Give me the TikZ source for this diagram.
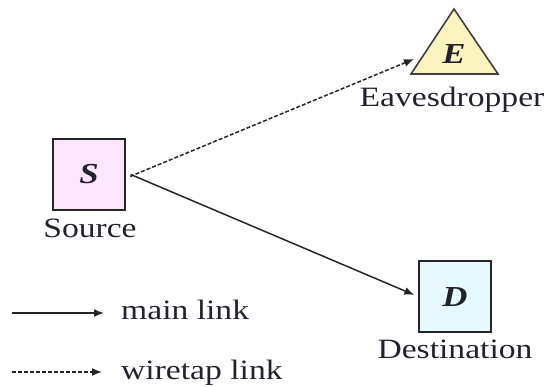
\documentclass[tikz,border=0pt]{standalone}
\usepackage{fontspec}
\setmainfont[FakeStretch=1.2]{Liberation Serif}
\usetikzlibrary{arrows.meta}
\definecolor{spink}{HTML}{FBE6FB}
\definecolor{eyel}{HTML}{FAF3BE}
\definecolor{dcyan}{HTML}{E6FAFD}
\definecolor{txt}{HTML}{22222E}
\begin{document}
\begin{tikzpicture}[x=1pt,y=-1pt,
  lbl/.style={font=\fontsize{28}{30}\selectfont, text=txt, inner sep=0pt},
  letter/.style={font=\fontsize{29}{30}\selectfont\bfseries\itshape, text=txt, inner sep=0pt},
  boxnode/.style={draw=black!85, line width=2pt, minimum width=72pt, minimum height=71pt, inner sep=0pt},
  link/.style={line width=1.5pt, draw=black!85, -{Latex[length=10pt,width=8pt]}},
  tap/.style={link, dash pattern=on 4pt off 2pt}
]
\useasboundingbox (0,0) rectangle (550,387);
% Source
\node[boxnode, fill=spink] (S) at (89,174.5) {};
\node[letter] (Sl) at (89,174) {S};
\node[lbl, anchor=base] (Stxt) at (90,238) {Source};
% Eavesdropper triangle
\coordinate (Etop) at (454,9);
\coordinate (Eleft) at (411,74);
\coordinate (Eright) at (498,74);
\draw[line width=1.6pt, draw=black!75, fill=eyel, line join=miter] (Etop) -- (Eleft) -- (Eright) -- cycle;
\node[letter] (E) at (454,54) {E};
\node[lbl, anchor=base] (Etxt) at (452,107) {Eavesdropper};
\coordinate (Etip) at (414,59);
% Destination
\node[boxnode, fill=dcyan] (D) at (455,296.5) {};
\node[letter] (Dl) at (455,297) {D};
\node[lbl, anchor=base] (Dtxt) at (455,359) {Destination};
% links
\draw[tap] ([yshift=-2pt]S.east) ++(4,0) -- (Etip);
\draw[link, shorten <=5pt, shorten >=4pt] ([yshift=2pt]S.east) -- (D.west);
% legend
\coordinate (m1) at (12,313);
\coordinate (m2) at (104,313);
\draw[link] (m1) -- (m2);
\node[lbl, anchor=base west] (mt) at (121,320) {main link};
\coordinate (w1) at (12,372);
\coordinate (w2) at (102,372);
\draw[tap] (w1) -- (w2);
\node[lbl, anchor=base west] (wt) at (121,380) {wiretap link};
\end{tikzpicture}
\end{document}
